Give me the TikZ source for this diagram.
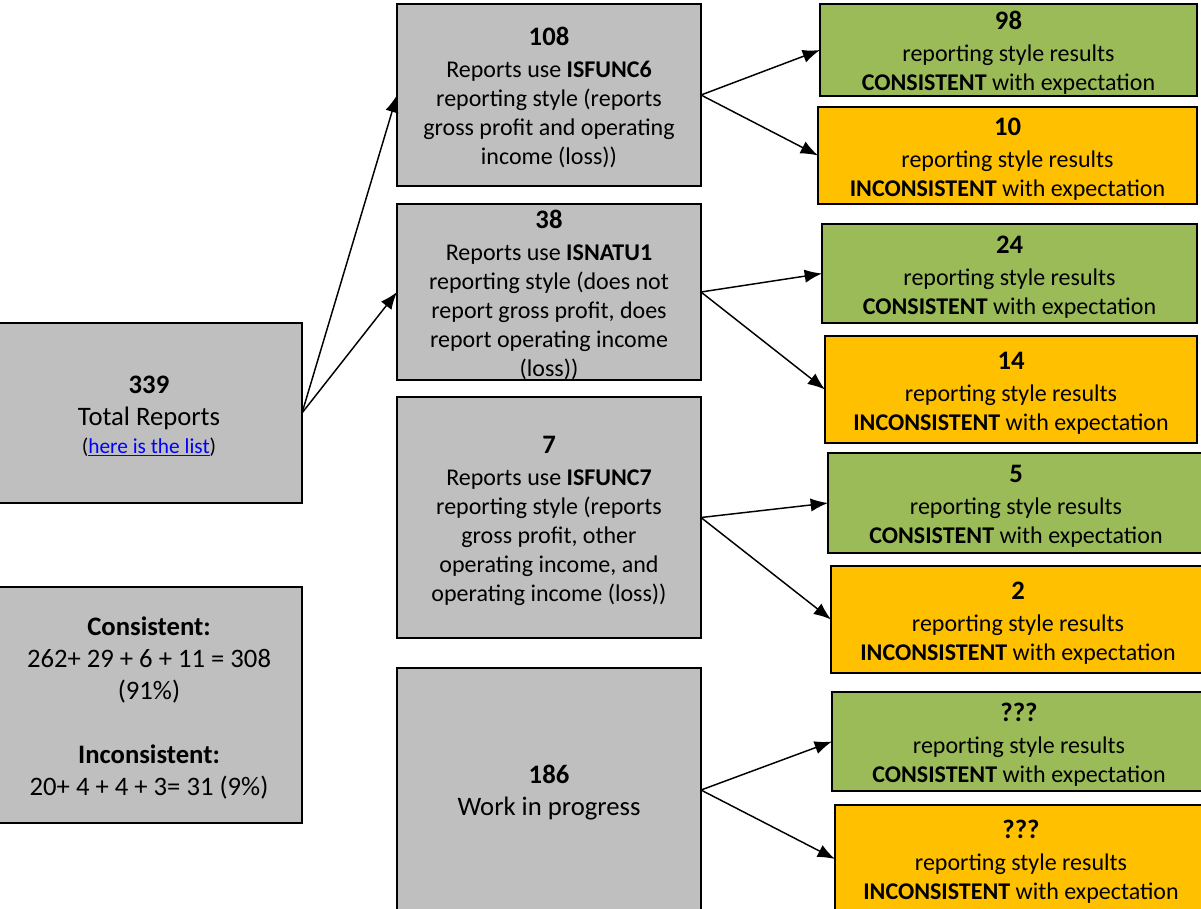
\documentclass[tikz,border=0pt]{standalone}
\usepackage{fontspec}
\setmainfont{Carlito}
\usetikzlibrary{arrows.meta}
\definecolor{boxgrey}{HTML}{BFBFBF}
\definecolor{okgreen}{HTML}{9BBB59}
\definecolor{badorange}{HTML}{FFC000}
\definecolor{linkblue}{HTML}{0000FF}
\newcommand{\topstrut}{\rule{0pt}{18pt}}
\newcommand{\countnum}[1]{{\fontsize{20}{24}\selectfont\topstrut\textbf{#1}}}
\begin{document}
\begin{tikzpicture}[
				x=0.75pt, y=-0.75pt,
				box/.style={draw, line width=1.4pt, inner sep=0pt, outer sep=0pt, align=center},
				greybox/.style={box, fill=boxgrey},
				midbox/.style={greybox, minimum width=228pt, font=\fontsize{18}{21.75}\selectfont},
				bigtext/.style={font=\fontsize{20}{24}\selectfont},
				okbox/.style={box, fill=okgreen, font=\fontsize{18}{21.75}\selectfont},
				badbox/.style={box, fill=badorange, font=\fontsize{18}{21.75}\selectfont},
				arr/.style={draw, line width=1.1pt, -{Latex[length=13pt,width=10pt]}}
			]
			\clip (0,0) rectangle (1201,908);
			\useasboundingbox (0,0) rectangle (1201,908);
			% left column
			\node[greybox, bigtext, minimum width=229.5pt, minimum height=135pt] (total) at (149,413)
				{\countnum{339}\\ Total Reports\\[-3pt]
				{\fontsize{16}{19}\selectfont (\textcolor{linkblue}{\underline{here is the list}})}};
			\node[greybox, bigtext, minimum width=229.5pt, minimum height=177pt] (summary) at (149,705)
				{\topstrut\textbf{Consistent:}\\ 262+ 29 + 6 + 11 = 308\\ (91\%)\\[24pt]
				\textbf{Inconsistent:}\\ 20+ 4 + 4 + 3= 31 (9\%)};
			% middle column
			\node[midbox, minimum height=136.5pt] (isfunc6) at (549,95)
				{\countnum{108}\\[2.25pt] Reports use \textbf{ISFUNC6}\\ reporting style (reports\\
				gross profit and operating\\ income (loss))};
			\node[midbox, minimum height=130.5pt] (isnatu1) at (549,292)
				{\countnum{38}\\[2.25pt] Reports use \textbf{ISNATU1}\\ reporting style (does not\\
				report gross profit, does\\ report operating income\\ (loss))};
			\node[midbox, minimum height=180.75pt] (isfunc7) at (549,517.5)
				{\countnum{7}\\[2.25pt] Reports use \textbf{ISFUNC7}\\ reporting style (reports\\
				gross profit, other\\ operating income, and\\ operating income (loss))};
			\node[midbox, bigtext, minimum height=183pt] (wip) at (549,790)
				{\countnum{186}\\ Work in progress};
			% right column
			\node[okbox, minimum width=282.75pt, minimum height=69pt] (ok1) at (1008.5,50)
				{\countnum{98}\\[2.25pt] reporting style results\\ \textbf{CONSISTENT} with expectation};
			\node[badbox, minimum width=284.25pt, minimum height=72.75pt] (bad1) at (1007.5,155.5)
				{\countnum{10}\\[2.25pt] reporting style results\\ \textbf{INCONSISTENT} with expectation};
			\node[okbox, minimum width=281.25pt, minimum height=74.25pt] (ok2) at (1009.5,273.5)
				{\countnum{24}\\[2.25pt] reporting style results\\ \textbf{CONSISTENT} with expectation};
			\node[badbox, minimum width=279pt, minimum height=80.25pt] (bad2) at (1011,389.5)
				{\countnum{14}\\[2.25pt] reporting style results\\ \textbf{INCONSISTENT} with expectation};
			\node[okbox, minimum width=282pt, minimum height=75pt] (ok3) at (1016,503)
				{\countnum{5}\\[2.25pt] reporting style results\\ \textbf{CONSISTENT} with expectation};
			\node[badbox, minimum width=280.5pt, minimum height=80.25pt] (bad3) at (1018,619.5)
				{\countnum{2}\\[2.25pt] reporting style results\\ \textbf{INCONSISTENT} with expectation};
			\node[okbox, minimum width=280.5pt, minimum height=74.25pt] (ok4) at (1019,741.5)
				{\countnum{???}\\[2.25pt] reporting style results\\ \textbf{CONSISTENT} with expectation};
			\node[badbox, minimum width=279pt, minimum height=81pt] (bad4) at (1021,859)
				{\countnum{???}\\[2.25pt] reporting style results\\ \textbf{INCONSISTENT} with expectation};
			% arrows
			\draw[arr] (total.east) -- (isfunc6.west);
			\draw[arr] (total.east) -- (isnatu1.west);
			\draw[arr] (isfunc6.east) -- (ok1.west);
			\draw[arr] (isfunc6.east) -- (bad1.west);
			\draw[arr] (isnatu1.east) -- (ok2.west);
			\draw[arr] (isnatu1.east) -- (bad2.west);
			\draw[arr] (isfunc7.east) -- (ok3.west);
			\draw[arr] (isfunc7.east) -- (bad3.west);
			\draw[arr] (wip.east) -- (ok4.west);
			\draw[arr] (wip.east) -- (bad4.west);
		\end{tikzpicture}
\end{document}
